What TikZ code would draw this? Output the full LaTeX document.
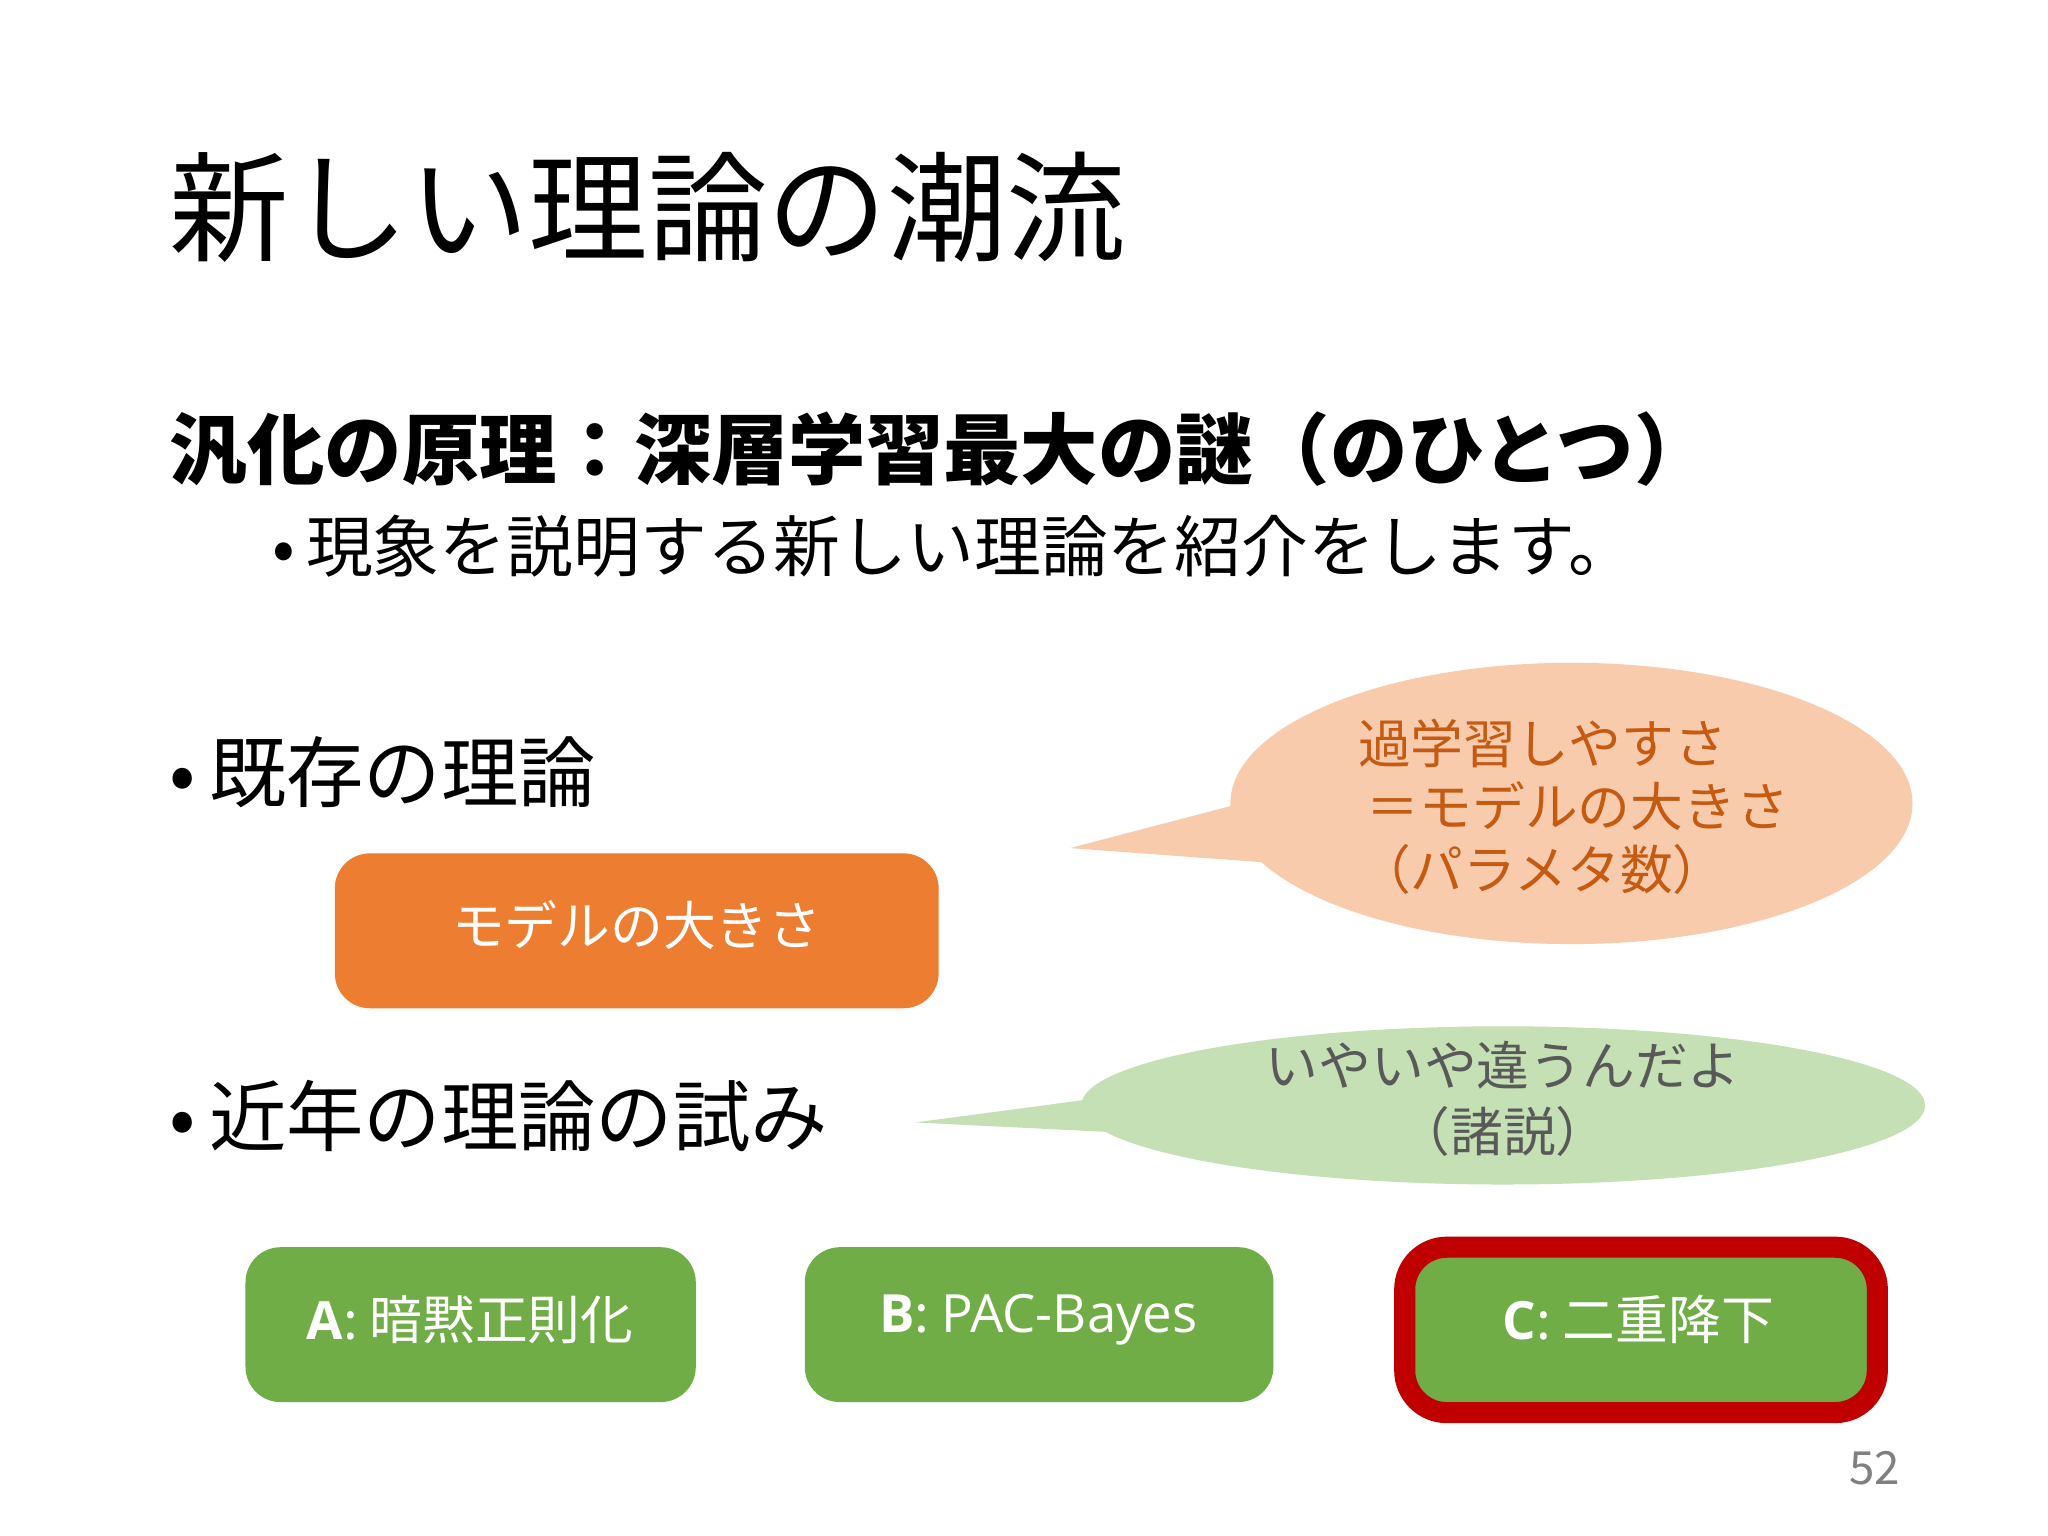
\documentclass[tikz,border=0pt]{standalone}
\usepackage{fontspec}
\setmainfont{Noto Sans CJK JP}
\newfontfamily\latinf{Open Sans}
\usetikzlibrary{shapes.geometric}
\definecolor{obox}{HTML}{ED7D31}
\definecolor{ocall}{HTML}{F8CBAD}
\definecolor{otext}{HTML}{C55A11}
\definecolor{gcall}{HTML}{C5E0B4}
\definecolor{gbox}{HTML}{70AD47}
\definecolor{rborder}{HTML}{C00000}
\definecolor{gtext}{HTML}{595959}
\tikzset{
 rbox/.style={rounded corners=10pt, draw=none, text=white, font=\fontsize{15}{18}\selectfont},
 callout/.style={ellipse, draw=none, inner sep=0pt},
}
\begin{document}
\begin{tikzpicture}[x=0.013128cm,y=-0.013128cm]
\useasboundingbox[fill=white] (0,0) rectangle (1560,1170);
\node[anchor=west, font=\fontsize{34}{40}\selectfont] (title) at (120,158) {新しい理論の潮流};
\node[anchor=west, font=\fontsize{22}{26}\selectfont\bfseries] (sub) at (120,342) {汎化の原理：深層学習最大の謎（のひとつ）};
\node[anchor=west, font=\fontsize{19}{23}\selectfont] (b0) at (198,416) {•\,現象を説明する新しい理論を紹介をします。};
\node[anchor=west, font=\fontsize{22}{26}\selectfont] (b1) at (120,588) {•\,既存の理論};
\node[anchor=west, font=\fontsize{22}{26}\selectfont] (b2) at (120,850) {•\,近年の理論の試み};
% orange callout
\node[callout, fill=ocall, minimum width=194pt, minimum height=80pt] (oc) at (1197,612) {};
\fill[ocall] (945,612) -- (815,646) -- (965,657) -- cycle;
\node[align=left, text=otext, font=\fontsize{15}{20}\selectfont, anchor=north west] (oct) at (1025,538) {過学習しやすさ\\[-2pt]\,＝モデルの大きさ\\[-2pt]（パラメタ数）};
% green callout
\node[callout, fill=gcall, minimum width=240pt, minimum height=45pt] (gc) at (1145,842) {};
\fill[gcall] (840,836) -- (697,855) -- (860,863) -- cycle;
\node[align=center, text=gtext, font=\fontsize{15}{19}\selectfont] (gct) at (1145,837) {いやいや違うんだよ\\（諸説）};
% boxes
\fill[obox, rounded corners=10pt] (255,650) rectangle (715,768);
\node[rbox] (mb) at (485,705) {モデルの大きさ};
\fill[gbox, rounded corners=10pt] (187,950) rectangle (530,1068);
\node[rbox] (a) at (358,1005) {{\latinf\bfseries A}: 暗黙正則化};
\fill[gbox, rounded corners=10pt] (613,950) rectangle (970,1068);
\node[rbox] (b) at (791,1005) {{\latinf\bfseries B}: {\latinf PAC-Bayes}};
\fill[gbox, rounded corners=10pt] (1073,953) rectangle (1428,1073);
\draw[rborder, line width=6pt, rounded corners=12pt] (1070,950) rectangle (1430,1076);
\node[rbox] (c) at (1248,1005) {{\latinf\bfseries C}: 二重降下};
\node[text=gray, font=\fontsize{13}{15}\selectfont] (pg) at (1428,1118) {52};
\end{tikzpicture}
\end{document}
